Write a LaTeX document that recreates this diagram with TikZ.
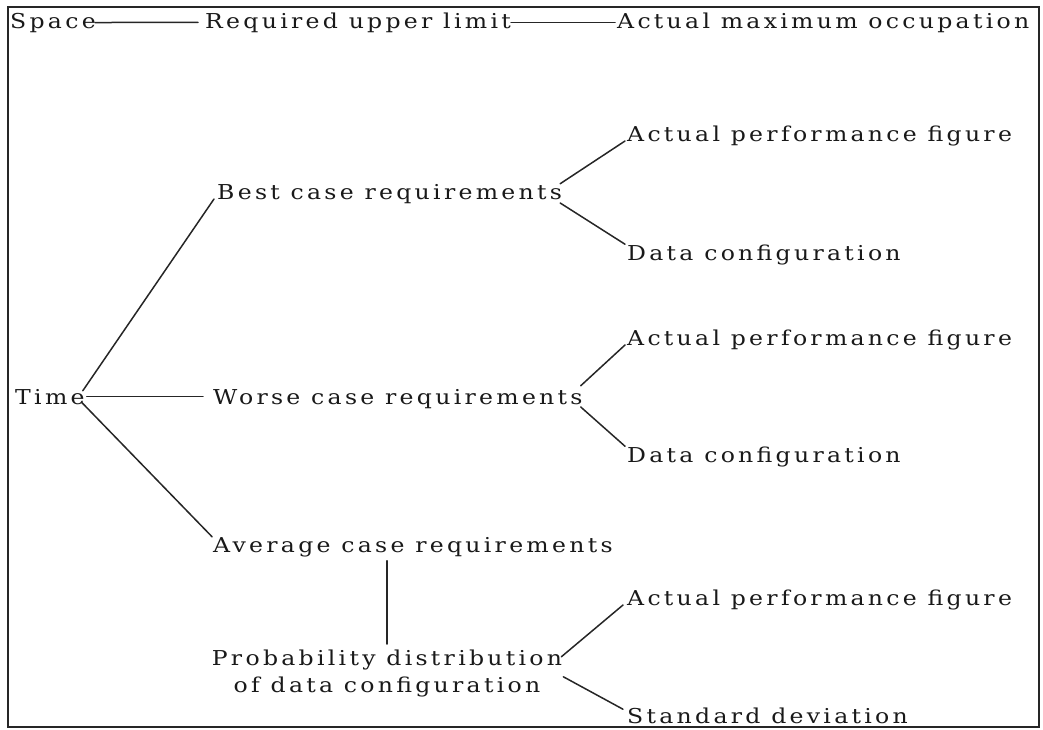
\documentclass[tikz,border=0pt]{standalone}
\usepackage{fontspec}
\setmainfont{DejaVu Serif}[FakeStretch=1.15, LetterSpace=16]
\begin{document}
\begin{tikzpicture}[x=1pt, y=-1pt,
  lbl/.style={anchor=base west, inner sep=0pt, text=black!90,
    font=\fontsize{20.5}{27}\selectfont},
  link/.style={line width=1.5pt, line cap=round, draw=black!85},
  frame/.style={line width=1.5pt, draw=black!85}]
\useasboundingbox (0,0) rectangle (1043,729);
\draw[frame] (8,7) rectangle (1039,727);

% top row: space requirements
\node[lbl] (space) at (10,28) {Space};
\node[lbl] (req) at (205,28) {Required upper limit};
\node[lbl] (amo) at (617,28) {Actual maximum occupation};

% time requirements
\node[lbl] (time) at (15,404) {Time};
\node[lbl] (best) at (217,199) {Best case requirements};
\node[lbl] (worse) at (213,404) {Worse case requirements};
\node[lbl] (avg) at (213,552) {Average case requirements};

\node[lbl] (act1) at (627,141) {Actual performance figure};
\node[lbl] (data1) at (627,260) {Data configuration};
\node[lbl] (act2) at (627,345) {Actual performance figure};
\node[lbl] (data2) at (627,462) {Data configuration};

\node[lbl, anchor=north, align=center] (prob) at (387,650)
  {Probability distribution\\of data configuration};
\node[lbl] (act3) at (627,605) {Actual performance figure};
\node[lbl] (std) at (627,723) {Standard deviation};

% connectors
\draw[link] ([xshift=-1pt]space.east) -- ([xshift=-7pt]req.west);
\draw[link] ([xshift=0pt]req.east) -- ([xshift=-2pt]amo.west);

\draw[link] ([xshift=-2pt,yshift=-2pt]time.north east) -- ([xshift=-3pt]best.base west);
\draw[link] ([xshift=2pt]time.east) -- ([xshift=-10pt]time.east -| worse.west);
\draw[link] ([xshift=-3pt,yshift=2pt]time.south east) -- ([xshift=-1pt]avg.north west);

\draw[link] ([xshift=-2pt]best.north east) -- ([xshift=-2pt]act1.base west);
\draw[link] ([xshift=-2pt,yshift=-4pt]best.base east) -- ([xshift=-2pt]data1.north west);
\draw[link] ([xshift=-2pt,yshift=3pt]worse.north east) -- ([xshift=-2pt]act2.base west);
\draw[link] ([xshift=-2pt,yshift=-3pt]worse.base east) -- ([xshift=-2pt]data2.north west);

\draw[link] ([yshift=-4pt]prob.north |- avg.south) -- ([yshift=6pt]prob.north);
\draw[link] ([xshift=-1pt,yshift=17pt]prob.east) -- ([xshift=-4pt]act3.base west);
\draw[link] ([xshift=1pt,yshift=-3pt]prob.east) -- ([xshift=-4pt,yshift=-2pt]std.north west);
\end{tikzpicture}
\end{document}
